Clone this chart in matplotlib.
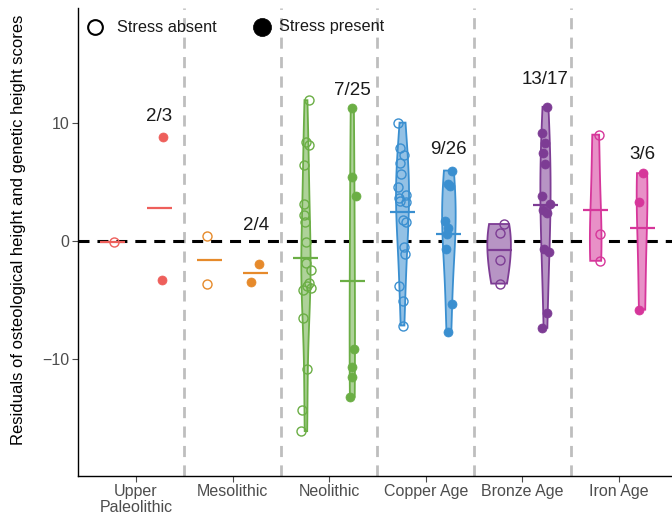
import numpy as np
import matplotlib
matplotlib.use("Agg")
import matplotlib.pyplot as plt
from matplotlib.colors import to_rgb

plt.rcParams['font.family'] = ['Liberation Sans', 'DejaVu Sans']

# ---------------- data ----------------
periods = ["Upper\nPaleolithic", "Mesolithic", "Neolithic", "Copper Age", "Bronze Age", "Iron Age"]
colors = ["#EE5F5B", "#E68A2B", "#6BAE45", "#3A8FD0", "#7D3C94", "#D6369A"]

upper_absent = [-0.1]
upper_present = [8.85, -3.3]
meso_absent = [0.43, -3.65]
meso_present = [-1.96, -3.46]
neo_absent = [11.94, 8.14, 8.37, 6.44, 3.15, 2.19, 1.65, -0.06, -1.84, -2.47,
              -3.55, -3.77, -3.94, -4.11, -6.5, -10.8, -14.3, -16.1]
neo_present = [11.29, 5.47, 3.86, -9.14, -10.64, -11.55, -13.19]
copper_absent = [10.04, 7.89, 7.26, 6.61, 5.67, 4.62, 3.91, 3.69, 3.4, 3.29,
                 1.79, 1.6, -0.54, -1.05, -3.83, -5.08, -7.15]
copper_present = [5.98, 4.8, 4.68, 1.73, 1.1, 0.6, -0.71, -5.36, -7.69]
bronze_absent = [1.45, 0.65, -1.56, -3.6]
bronze_present = [11.38, 9.17, 8.31, 7.46, 6.55, 3.83, 3.15, 2.6, 2.36,
                  -0.71, -0.94, -6.1, -7.35]
iron_absent = [9.02, 0.6, -1.67]
iron_present = [5.76, 3.35, -5.81]

absent = [upper_absent, meso_absent, neo_absent, copper_absent, bronze_absent, iron_absent]
present = [upper_present, meso_present, neo_present, copper_present, bronze_present, iron_present]

label_y = [10.55, 1.36, 12.75, 7.8, 13.7, 7.3]
legend_labels = ["Stress absent", "Stress present"]

# ---------------- helpers ----------------
def nrd0(x):
    x = np.asarray(x, float)
    sd = np.std(x, ddof=1)
    q75, q25 = np.percentile(x, [75, 25])
    lo = min(sd, (q75 - q25) / 1.34)
    if lo <= 0:
        lo = sd if sd > 0 else 1.0
    return 0.9 * lo * len(x) ** (-0.2)

def kde(x, adjust=1.5):
    x = np.asarray(x, float)
    bw = nrd0(x) * adjust
    grid = np.linspace(x.min(), x.max(), 512)
    d = np.exp(-0.5 * ((grid[:, None] - x[None, :]) / bw) ** 2).sum(1) / (len(x) * bw * np.sqrt(2 * np.pi))
    return grid, d

def lighten(c, f=0.5):
    r, g, b = to_rgb(c)
    return (1 - f + f * r, 1 - f + f * g, 1 - f + f * b)

# ---------------- figure ----------------
W, H = 672, 516
fig = plt.figure(figsize=(W / 100, H / 100), dpi=100)
ax = fig.add_axes([78 / W, 40 / H, 1 - 78 / W, (476 - 8) / H])

xpos = np.arange(1, len(periods) + 1)
dodge = 0.24

groups = []
for i in range(len(periods)):
    for k, vals in enumerate([absent[i], present[i]]):
        groups.append((i, k, vals))
dens = {}
for i, k, vals in groups:
    if len(vals) >= 3:
        dens[(i, k)] = kde(vals)
dmax = max(d.max() for g, d in dens.values())
maxhalf = 0.122

for x in np.arange(1.5, len(periods), 1.0):
    ax.axvline(x, color="#BEBEBE", lw=2.0, ls=(0, (4, 3)), zorder=0)
ax.axhline(0, color="black", lw=2.2, ls=(0, (3.6, 2.6)), zorder=1)

rng = np.random.default_rng(7)
for i, k, vals in groups:
    col = colors[i]
    cx = xpos[i] + (-dodge if k == 0 else dodge)
    if (i, k) in dens:
        g, d = dens[(i, k)]
        hw = maxhalf * d / dmax
        xs = np.concatenate([cx - hw, (cx + hw)[::-1]])
        ys = np.concatenate([g, g[::-1]])
        ax.fill(xs, ys, facecolor=lighten(col, 0.55), edgecolor=col, lw=1.3, zorder=2)
    v = np.asarray(vals, float)
    jit = rng.uniform(-0.05, 0.05, len(v))
    if k == 0:
        ax.plot(cx + jit, v, ls="none", marker="o", ms=6.5, mfc="none", mec=col, mew=1.0, zorder=3)
    else:
        ax.plot(cx + jit, v, ls="none", marker="o", ms=6.5, mfc=col, mec=col, mew=0.5, zorder=3)
    m = v.mean()
    ax.plot([cx - 0.13, cx + 0.13], [m, m], color=col, lw=1.6, solid_capstyle="butt", zorder=4)

for i in range(len(periods)):
    n_p = len(present[i])
    n_t = len(absent[i]) + n_p
    ax.text(xpos[i] + dodge, label_y[i], f"{n_p}/{n_t}", ha="center", va="center",
            fontsize=13.5, color="#1A1A1A", zorder=5)

ax.set_xlim(0.4, 6.55)
ax.set_ylim(-19.9, 19.75)
ax.set_yticks([-10, 0, 10])
ax.set_xticks(xpos)
ax.set_xticklabels(periods, linespacing=1.05)
ax.tick_params(axis="both", labelsize=11.5, colors="#4D4D4D", length=4, width=0.8)
ax.tick_params(axis="x", pad=2)
ax.tick_params(axis="y", pad=2)
for s in ["top", "right"]:
    ax.spines[s].set_visible(False)
for s in ["left", "bottom"]:
    ax.spines[s].set_color("black")
    ax.spines[s].set_linewidth(1.0)
ax.set_ylabel("Residuals of osteological height and genetic height scores", fontsize=12,
              color="black")
ax.yaxis.set_label_coords(-(78 - 26) / (W - 78), (476 - 230) / 468)

# legend drawn manually (figure pixel coordinates)
def fpx(x, y):
    return x / W, 1 - y / H

lx, ly = fpx(95, 27)
fig.add_artist(plt.Line2D([lx], [ly], ls="none", marker="o", ms=10.6, mfc="none", mec="black",
                          mew=1.5, transform=fig.transFigure))
tx, ty = fpx(117, 27)
fig.text(tx, ty, legend_labels[0], ha="left", va="center", fontsize=11.7, color="#1A1A1A")
lx, ly = fpx(262, 27)
fig.add_artist(plt.Line2D([lx], [ly], ls="none", marker="o", ms=13, mfc="black", mec="black",
                          mew=0.5, transform=fig.transFigure))
tx, ty = fpx(279, 27)
fig.text(tx, ty, legend_labels[1], ha="left", va="center", fontsize=11.7, color="#1A1A1A")

fig.savefig("out.png", dpi=100)
